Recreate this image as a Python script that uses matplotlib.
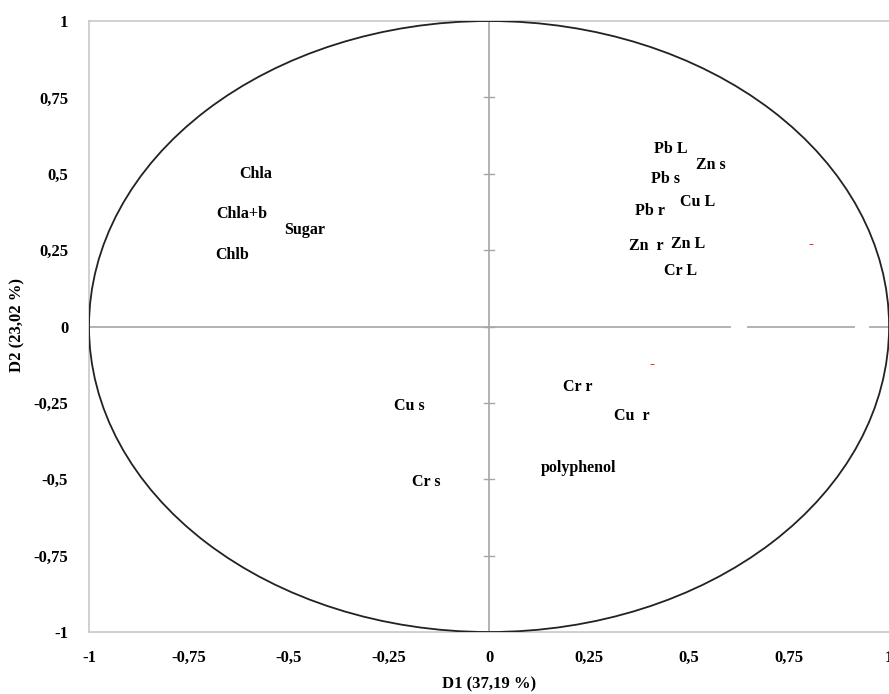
import numpy as np
import matplotlib; matplotlib.use("Agg")
import matplotlib.pyplot as plt
from matplotlib.patches import Ellipse

# variable labels and their positions on the correlation circle
labels = ["Pb L", "Zn s", "Pb s", "Cu L", "Pb r", "Zn  r", "Zn L", "Cr L",
          "Chla", "Chla+b", "Sugar", "Chlb",
          "Cu s", "Cr s", "Cr r", "Cu  r", "polyphenol"]
d1 = [0.455, 0.555, 0.44, 0.5225, 0.4025, 0.3925, 0.4975, 0.4775,
      -0.5825, -0.6175, -0.46, -0.6425,
      -0.20, -0.1575, 0.2225, 0.3575, 0.2225]
d2 = [0.582, 0.529, 0.484, 0.408, 0.379, 0.265, 0.271, 0.183,
      0.50, 0.369, 0.317, 0.235,
      -0.261, -0.51, -0.199, -0.294, -0.464]

# stray red markers
red_x = [0.805, 0.4075]
red_y = [0.271, -0.124]

ticks = [-1, -0.75, -0.5, -0.25, 0, 0.25, 0.5, 0.75, 1]
tick_labels = ["-1", "-0,75", "-0,5", "-0,25", "0", "0,25", "0,5", "0,75", "1"]

plt.rcParams["font.family"] = ["Liberation Serif", "DejaVu Serif"]
plt.rcParams["font.weight"] = "bold"

fig = plt.figure(figsize=(8.89, 6.94), dpi=100)
ax = fig.add_axes([0.1001, 0.0893, 0.9, 0.8804])
ax.set_xlim(-1, 1)
ax.set_ylim(-1, 1)

for s in ["left", "bottom", "top"]:
    ax.spines[s].set_color("#c8c8c8")
    ax.spines[s].set_linewidth(1.2)
ax.spines["right"].set_visible(False)

# centre axes
ax.plot([-1, 1], [0, 0], color="#a6a6a6", lw=1.2, zorder=1)
ax.plot([0, 0], [-1, 1], color="#a6a6a6", lw=1.2, zorder=1)
for t in ticks[1:-1]:
    ax.plot([-0.012, 0.012], [t, t], color="#a6a6a6", lw=1.0, zorder=1)
# small gaps in the horizontal axis line
for g0, g1 in [(0.61, 0.64), (0.92, 0.945)]:
    ax.plot([g0, g1], [0, 0], color="white", lw=3, zorder=2)

ax.add_patch(Ellipse((0, 0), 2, 2, fill=False, edgecolor="#222222", lw=1.3, zorder=3))

for lab, x, y in zip(labels, d1, d2):
    ax.text(x, y, lab, fontsize=11.5, fontweight="bold", ha="center", va="center", zorder=4)

ax.plot(red_x, red_y, marker="_", ls="none", color="red", ms=3, mew=0.6, zorder=4)

ax.set_xticks(ticks)
ax.set_xticklabels(tick_labels)
ax.set_yticks(ticks)
ax.set_yticklabels(tick_labels)
ax.tick_params(length=0, labelsize=12)
ax.tick_params(axis="x", pad=13)
ax.tick_params(axis="y", pad=15)

fig.text(0.55, 0.003, "D1 (37,19 %)", ha="center", va="bottom", fontsize=12, fontweight="bold")
fig.text(0.02, 0.531, "D2 (23,02 %)", ha="center", va="center", rotation=90, fontsize=12, fontweight="bold")

fig.savefig("out.png", dpi=100)
